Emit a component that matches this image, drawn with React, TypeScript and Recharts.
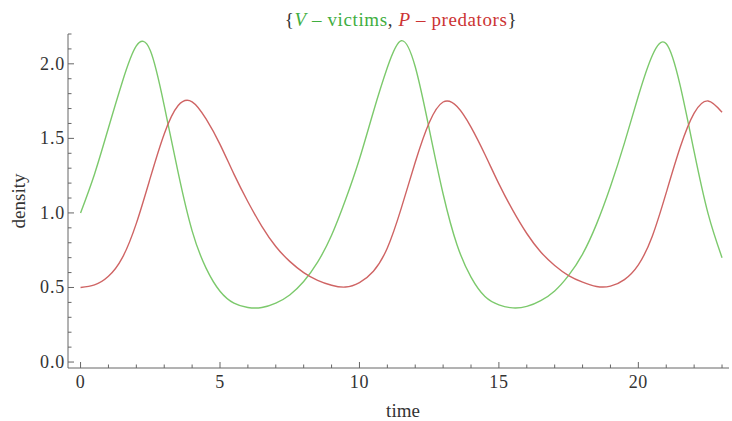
import React from "react";
import {Line, LineChart, XAxis, YAxis} from "recharts";

// time samples (step 0.5) and densities
const times = [
    0, 0.5, 1, 1.5, 2, 2.5, 3, 3.5, 4, 4.5, 5, 5.5, 6, 6.5, 7, 7.5, 8, 8.5, 9, 9.5,
    10, 10.5, 11, 11.5, 12, 12.5, 13, 13.5, 14, 14.5, 15, 15.5, 16, 16.5, 17, 17.5, 18, 18.5, 19, 19.5,
    20, 20.5, 21, 21.5, 22, 22.5, 23,
];
const victims = [
    1.00, 1.26, 1.57, 1.88, 2.12, 2.09, 1.72, 1.27, 0.88, 0.63, 0.475, 0.395, 0.366, 0.366, 0.395, 0.45, 0.54, 0.67, 0.85, 1.088,
    1.362, 1.679, 1.975, 2.155, 1.98, 1.564, 1.127, 0.785, 0.569, 0.439, 0.383, 0.363, 0.373, 0.412, 0.477, 0.581, 0.724, 0.925, 1.177, 1.468,
    1.784, 2.056, 2.135, 1.854, 1.411, 0.995, 0.70,
];
const predators = [
    0.50, 0.517, 0.575, 0.70, 0.93, 1.235, 1.53, 1.72, 1.745, 1.63, 1.46, 1.26, 1.075, 0.91, 0.775, 0.675, 0.60, 0.548, 0.515, 0.503,
    0.533, 0.609, 0.765, 1.032, 1.34, 1.605, 1.744, 1.714, 1.576, 1.392, 1.195, 1.017, 0.862, 0.738, 0.648, 0.58, 0.536, 0.507, 0.509, 0.553,
    0.652, 0.844, 1.136, 1.44, 1.669, 1.751, 1.675,
];

const xTicks = [0, 1, 2, 3, 4, 5, 6, 7, 8, 9, 10, 11, 12, 13, 14, 15, 16, 17, 18, 19, 20, 21, 22, 23];
const yTicks = [0, 0.1, 0.2, 0.3, 0.4, 0.5, 0.6, 0.7, 0.8, 0.9, 1.0, 1.1, 1.2, 1.3, 1.4, 1.5, 1.6, 1.7, 1.8, 1.9, 2.0, 2.1, 2.2];

const data = times.map((t, i) => ({time: t, V: victims[i], P: predators[i]}));

const FONT = "'Liberation Serif', 'Times New Roman', serif";
const AXIS = "#666";

function XTick({x, y, payload}: any) {
    const v = payload.value;
    const major = v % 5 === 0;
    return (
        <g>
            <line x1={x} x2={x} y1={y} y2={y - (major ? 6 : 3.5)} stroke={AXIS}/>
            {major && (
                <text x={x} y={y + 20} textAnchor="middle" fontSize={18} letterSpacing={0.6}
                      fontFamily={FONT} fill="#333">
                    {v}
                </text>
            )}
        </g>
    );
}

function YTick({x, y, payload}: any) {
    const v = payload.value;
    const major = Math.abs(v * 2 - Math.round(v * 2)) < 1e-6;
    return (
        <g>
            <line x1={x} x2={x + (major ? 6 : 3.5)} y1={y} y2={y} stroke={AXIS}/>
            {major && (
                <text x={x - 3} y={y + 6} textAnchor="end" fontSize={18} letterSpacing={0.8}
                      fontFamily={FONT} fill="#333">
                    {v.toFixed(1)}
                </text>
            )}
        </g>
    );
}

export default function App() {
    return (
        <div style={{position: "absolute", left: 0, top: 0, width: 732, height: 421, background: "#fff", fontFamily: FONT}}>
            <LineChart width={732} height={421} data={data}
                       margin={{top: 34, right: 3, bottom: 23, left: 18}}>
                <XAxis dataKey="time" type="number" domain={[-0.45, 23.25]} allowDataOverflow
                       ticks={xTicks} interval={0} tick={<XTick/>} tickLine={false}
                       tickSize={0} tickMargin={0} height={30}
                       axisLine={{stroke: AXIS}}/>
                <YAxis type="number" domain={[-0.04, 2.2]} allowDataOverflow
                       ticks={yTicks} interval={0} tick={<YTick/>} tickLine={false}
                       tickSize={0} tickMargin={0} width={50}
                       axisLine={{stroke: AXIS}}/>
                <Line type="natural" dataKey="V" stroke="#7cc96c" strokeWidth={1.4} dot={false} isAnimationActive={false}/>
                <Line type="natural" dataKey="P" stroke="#cf6464" strokeWidth={1.4} dot={false} isAnimationActive={false}/>
            </LineChart>
            <div style={{position: "absolute", left: 0, top: 9, width: 802, textAlign: "center", fontSize: 19, lineHeight: "22px", letterSpacing: 0.6, whiteSpace: "nowrap", color: "#333"}}>
                {"{"}<span style={{color: "#3fae3f"}}><i>V</i> – victims</span>,{" "}
                <span style={{color: "#cc3333"}}><i>P</i> – predators</span>{"}"}
            </div>
            <div style={{position: "absolute", left: 0, top: 400, width: 806, textAlign: "center", fontSize: 19, lineHeight: "22px", color: "#333"}}>
                time
            </div>
            <div style={{position: "absolute", left: 19, top: 201, transform: "translate(-50%, -50%) rotate(-90deg)", fontSize: 19, lineHeight: "22px", color: "#333", whiteSpace: "nowrap"}}>
                density
            </div>
        </div>
    );
}
